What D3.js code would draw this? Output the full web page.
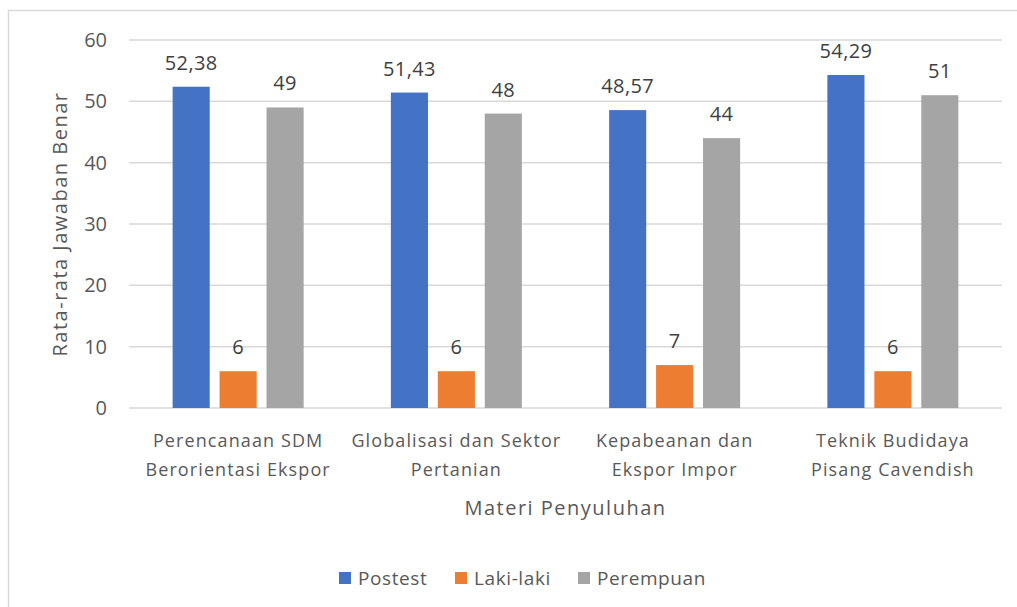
<!DOCTYPE html>
<html lang="id">
<head>
<meta charset="UTF-8"/>
<title>Rata-rata Jawaban Benar</title>
<script src="https://d3js.org/d3.v7.min.js"></script>
<style>
	body { margin: 0; background: #fff; }
	text { font-family: "Open Sans", sans-serif; fill: #595959; }
</style>
</head>
<body>
<script>
var w = 1017;
var h = 607;

var categories = [
	["Perencanaan SDM", "Berorientasi Ekspor"],
	["Globalisasi dan Sektor", "Pertanian"],
	["Kepabeanan dan", "Ekspor Impor"],
	["Teknik Budidaya", "Pisang Cavendish"]
];
var seriesNames = ["Postest", "Laki-laki", "Perempuan"];
var postest = [52.38, 51.43, 48.57, 54.29];
var lakiLaki = [6, 6, 7, 6];
var perempuan = [49, 48, 44, 51];
var yTicks = [0, 10, 20, 30, 40, 50, 60];
var colors = ["#4472C4", "#ED7D31", "#A5A5A5"];

var seriesValues = [postest, lakiLaki, perempuan];

var plotLeft = 129, plotRight = 1002, plotTop = 40, plotBottom = 408;

var svg = d3.select("body")
	.append("svg")
	.attr("width", w)
	.attr("height", h);

// chart border
svg.append("rect")
	.attr("x", 8.5)
	.attr("y", 10.5)
	.attr("width", w + 20)
	.attr("height", h + 20)
	.attr("fill", "none")
	.attr("stroke", "#D9D9D9")
	.attr("stroke-width", 1.5);

var x0 = d3.scaleBand()
	.domain(d3.range(categories.length))
	.range([plotLeft, plotRight]);

var x1 = d3.scaleBand()
	.domain(d3.range(seriesNames.length))
	.range([0, 131])
	.paddingInner(0.21);

var yScale = d3.scaleLinear()
	.domain([0, 60])
	.range([plotBottom, plotTop]);

// gridlines
svg.append("g")
	.selectAll("line")
	.data(yTicks)
	.enter()
	.append("line")
	.attr("x1", plotLeft)
	.attr("x2", plotRight)
	.attr("y1", function (d) { return yScale(d); })
	.attr("y2", function (d) { return yScale(d); })
	.attr("stroke", "#D9D9D9")
	.attr("stroke-width", 1.5);

// y axis labels
var yAxis = d3.axisLeft(yScale)
	.tickValues(yTicks)
	.tickSize(0)
	.tickPadding(22);
var yg = svg.append("g")
	.attr("transform", "translate(" + plotLeft + ",0)")
	.call(yAxis);
yg.select(".domain").remove();
yg.selectAll("text")
	.attr("font-size", "20px")
	.style("font-family", "\"Open Sans\", sans-serif")
	.style("fill", "#595959");

// bars
var groups = svg.selectAll(".grp")
	.data(categories)
	.enter()
	.append("g")
	.attr("class", "grp")
	.attr("transform", function (d, i) {
		return "translate(" + (x0(i) + x0.bandwidth() / 2 - 65.5) + ",0)";
	});

groups.each(function (c, ci) {
	var g = d3.select(this);
	seriesValues.forEach(function (vals, si) {
		var v = vals[ci];
		g.append("rect")
			.attr("x", x1(si))
			.attr("y", yScale(v))
			.attr("width", x1.bandwidth())
			.attr("height", yScale(0) - yScale(v))
			.attr("fill", colors[si]);
		g.append("text")
			.attr("x", x1(si) + x1.bandwidth() / 2)
			.attr("y", yScale(v) - 17)
			.attr("text-anchor", "middle")
			.attr("font-size", "20px")
			.attr("letter-spacing", "0.4px")
			.style("fill", "#404040")
			.text(String(v).replace(".", ","));
	});
	// category label
	var t = g.append("text")
		.attr("text-anchor", "middle")
		.attr("font-size", "18px")
		.attr("letter-spacing", "1.1px");
	c.forEach(function (line, li) {
		t.append("tspan")
			.attr("x", 65.5)
			.attr("y", 447 + li * 29)
			.text(line);
	});
});

// axis titles
svg.append("text")
	.attr("x", (plotLeft + plotRight) / 2)
	.attr("y", 515)
	.attr("text-anchor", "middle")
	.attr("font-size", "20px")
	.attr("letter-spacing", "1.5px")
	.text("Materi Penyuluhan");

svg.append("text")
	.attr("transform", "translate(67,224) rotate(-90)")
	.attr("text-anchor", "middle")
	.attr("font-size", "20px")
	.attr("letter-spacing", "1.5px")
	.text("Rata-rata Jawaban Benar");

// legend
var legendX = [339, 455, 578];
var legend = svg.selectAll(".leg")
	.data(seriesNames)
	.enter()
	.append("g")
	.attr("class", "leg")
	.attr("transform", function (d, i) {
		return "translate(" + legendX[i] + ",572)";
	});
legend.append("rect")
	.attr("width", 12)
	.attr("height", 12)
	.attr("fill", function (d, i) { return colors[i]; });
legend.append("text")
	.attr("x", 19)
	.attr("y", 13)
	.attr("font-size", "19px")
	.attr("letter-spacing", "0.6px")
	.text(function (d) { return d; });
</script>
</body>
</html>
